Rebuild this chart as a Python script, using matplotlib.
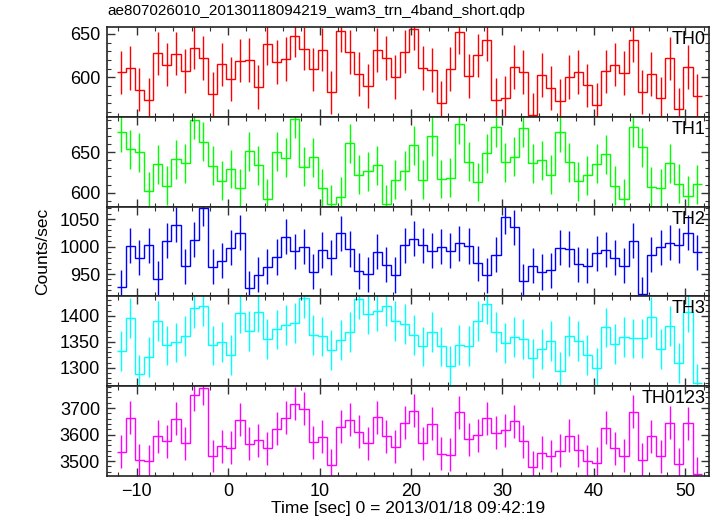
import numpy as np
import matplotlib
matplotlib.use("Agg")
import matplotlib.pyplot as plt
from matplotlib.ticker import MultipleLocator

plt.rcParams['font.family'] = ['Liberation Sans', 'DejaVu Sans']
plt.rcParams['axes.unicode_minus'] = True

# ---- data -------------------------------------------------------------
title = "ae807026010_20130118094219_wam3_trn_4band_short.qdp"
xlabel = "Time [sec] 0 = 2013/01/18 09:42:19"
ylabel = "Counts/sec"
panel_names = ["TH0", "TH1", "TH2", "TH3", "TH0123"]
panel_colors = ["#ff0000", "#00ff00", "#0000ff", "#00ffff", "#ff00ff"]

bin_width = 1.0
first_bin_center = -11.7
n_bins = 64

th0 = [605.8, 610.8, 585.8, 574.2, 627.7, 614.6, 627.3, 607.3, 634.2, 622.3,
       580.8, 615.0, 598.0, 619.2, 620.0, 589.2, 638.8, 617.7, 621.2, 648.0,
       633.0, 609.2, 631.9, 582.7, 653.8, 629.2, 604.2, 590.0, 631.5, 622.3,
       600.4, 629.6, 656.2, 610.8, 608.5, 570.8, 609.6, 652.3, 601.9, 625.4,
       643.5, 574.2, 576.2, 611.9, 606.2, 556.9, 602.7, 587.7, 573.0, 600.4,
       606.2, 590.8, 568.5, 606.9, 614.6, 605.0, 642.7, 583.1, 604.2, 575.8,
       621.9, 563.1, 611.9, 579.2]
th1 = [674.5, 653.2, 650.0, 601.6, 635.2, 608.2, 641.4, 636.4, 689.7, 662.7,
       633.2, 614.7, 629.1, 605.3, 651.2, 633.6, 592.2, 650.4, 643.0, 690.9,
       631.9, 643.8, 605.7, 586.0, 594.7, 660.6, 622.1, 626.6, 634.0, 586.0,
       616.0, 627.0, 658.6, 616.0, 669.6, 616.8, 618.4, 684.4, 638.1, 613.1,
       648.7, 680.7, 637.3, 644.2, 679.9, 636.0, 640.1, 622.1, 674.1, 637.7,
       614.3, 621.7, 635.6, 647.5, 608.6, 592.2, 680.3, 655.7, 607.0, 605.7,
       636.0, 611.0, 596.3, 610.6]
th2 = [926.2, 1001.8, 979.9, 1003.0, 941.5, 1010.4, 1039.6, 964.0, 1012.8, 1070.1,
       963.4, 974.4, 998.2, 1025.0, 924.4, 948.8, 963.4, 981.1, 1017.7, 991.5,
       1000.0, 954.3, 993.9, 979.9, 1024.4, 995.7, 955.5, 950.0, 990.9, 967.1,
       948.2, 1003.0, 1014.6, 1003.0, 992.1, 1000.0, 992.1, 1006.1, 1001.2, 970.1,
       947.6, 984.8, 1054.3, 1035.4, 936.6, 965.2, 953.7, 957.3, 998.2, 995.7,
       967.7, 965.2, 987.8, 994.5, 979.3, 965.2, 1010.4, 913.4, 985.4, 998.8,
       1007.3, 1003.0, 1025.6, 990.2]
th3 = [1332.0, 1395.5, 1287.2, 1321.2, 1389.7, 1342.9, 1348.7, 1361.5, 1415.4, 1418.6,
       1342.9, 1350.0, 1325.0, 1405.8, 1370.5, 1407.7, 1355.8, 1373.7, 1382.1, 1386.5,
       1433.3, 1363.5, 1360.3, 1334.6, 1353.8, 1369.2, 1431.4, 1403.8, 1409.0, 1419.2,
       1390.4, 1384.6, 1363.5, 1341.0, 1369.2, 1341.0, 1303.8, 1343.6, 1341.7, 1390.4,
       1423.1, 1369.2, 1347.4, 1359.6, 1355.8, 1318.0, 1336.5, 1351.9, 1293.0, 1361.5,
       1351.3, 1325.0, 1300.0, 1377.6, 1346.2, 1359.6, 1356.4, 1356.4, 1398.1, 1336.5,
       1380.1, 1309.6, 1407.7, 1269.9]
th0123 = [3535.8, 3662.9, 3503.1, 3499.4, 3593.7, 3574.8, 3659.1, 3567.3, 3749.7, 3774.8,
          3519.5, 3556.0, 3549.7, 3655.3, 3566.0, 3578.6, 3548.4, 3621.4, 3664.2, 3717.0,
          3696.9, 3571.1, 3592.5, 3484.3, 3628.9, 3655.3, 3610.1, 3567.3, 3665.4, 3593.7,
          3553.5, 3644.0, 3690.6, 3567.3, 3640.3, 3528.3, 3524.5, 3684.3, 3582.4, 3597.5,
          3661.6, 3606.3, 3616.4, 3650.3, 3574.8, 3476.7, 3532.1, 3519.5, 3538.4, 3595.0,
          3540.9, 3499.4, 3493.1, 3626.4, 3548.4, 3520.8, 3686.8, 3505.7, 3593.7, 3518.2,
          3645.3, 3489.3, 3642.8, 3452.8]
errors = [25.0, 24.0, 32.0, 38.0, 62.0]

series = [th0, th1, th2, th3, th0123]
ylims = [(554.7, 658.0), (582.8, 693.4), (909.1, 1073.2), (1264.7, 1437.2), (3444.0, 3782.4)]
ymajor = [50, 50, 50, 50, 100]
yminor = [10, 10, 10, 10, 20]

# ---- figure -----------------------------------------------------------
W_PX, H_PX = 717, 516
fig = plt.figure(figsize=(W_PX / 100, H_PX / 100), dpi=100)

left_px, right_px = 107, 709
top_px, bottom_px = 27, 476
panel_h = (bottom_px - top_px) / 5.0

centers = first_bin_center + bin_width * np.arange(n_bins)
edges = np.append(centers - bin_width / 2, centers[-1] + bin_width / 2)

axes = []
for i, (vals, name, col) in enumerate(zip(series, panel_names, panel_colors)):
    y_top = top_px + i * panel_h
    ax = fig.add_axes([left_px / W_PX, 1 - (y_top + panel_h) / H_PX,
                       (right_px - left_px) / W_PX, panel_h / H_PX])
    ax.stairs(vals, edges, baseline=None, color=col, lw=1.0)
    ax.errorbar(centers, vals, yerr=errors[i], fmt='none', ecolor=col,
                elinewidth=1.0, capsize=0)
    ax.set_xlim(-13.25, 52.6)
    ax.set_ylim(*ylims[i])
    ax.xaxis.set_major_locator(MultipleLocator(10))
    ax.xaxis.set_minor_locator(MultipleLocator(2))
    ax.yaxis.set_major_locator(MultipleLocator(ymajor[i]))
    ax.yaxis.set_minor_locator(MultipleLocator(yminor[i]))
    ax.tick_params(which='both', direction='in', top=True, right=True,
                   colors='#333333', labelcolor='black', labelsize=13)
    ax.tick_params(which='major', length=5.5, width=1.0, pad=5)
    ax.tick_params(which='minor', length=3.0, width=0.8)
    ax.tick_params(axis='x', which='major', pad=5)
    if i < 4:
        ax.tick_params(labelbottom=False)
    for sp in ax.spines.values():
        sp.set_linewidth(1.2)
        sp.set_color('#222222')
    ax.text(0.994, 0.955, name, transform=ax.transAxes, ha='right', va='top',
            fontsize=13, color='black')
    axes.append(ax)

axes[-1].set_xlabel(xlabel, fontsize=12.5, labelpad=1)
fig.text(43 / W_PX, 1 - 251 / H_PX, ylabel, rotation=90, ha='center',
         va='center', fontsize=12.5)
fig.text(left_px / W_PX, 1 - 11 / H_PX, title, ha='left', va='center', fontsize=11)

fig.savefig("out.png", dpi=100)
